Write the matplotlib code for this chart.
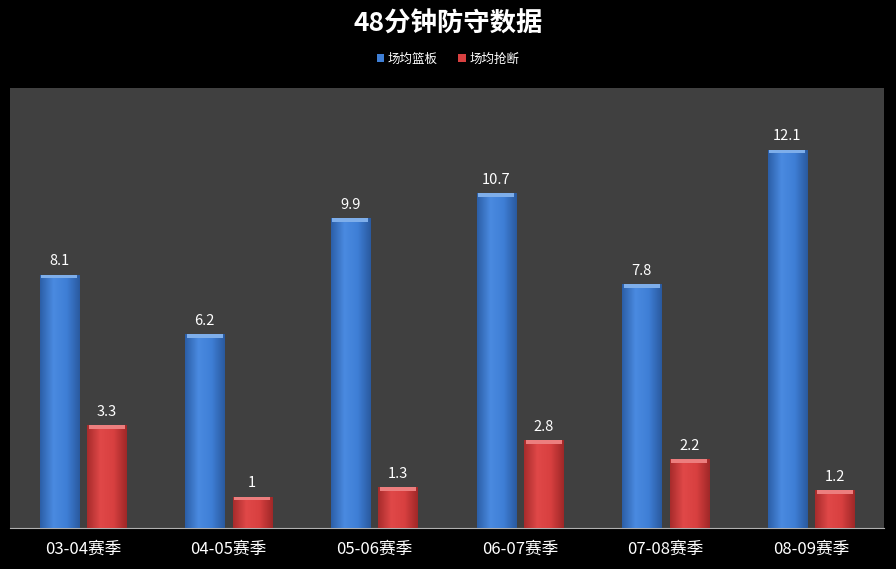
import numpy as np
import matplotlib.pyplot as plt
from matplotlib.colors import LinearSegmentedColormap

plt.rcParams['font.family'] = ['Noto Sans CJK SC', 'DejaVu Sans']

seasons = ["03-04赛季", "04-05赛季", "05-06赛季", "06-07赛季", "07-08赛季", "08-09赛季"]
rebounds = [8.1, 6.2, 9.9, 10.7, 7.8, 12.1]
steals = [3.3, 1, 1.3, 2.8, 2.2, 1.2]

fig = plt.figure(figsize=(8.96, 5.69), dpi=100, facecolor="black")
ax = fig.add_axes([10 / 896, 1 - 528 / 569, 874 / 896, 440 / 569])
ax.set_facecolor("#404040")

x = np.arange(len(seasons))
w = 0.268
off = 0.163

blue_cm = LinearSegmentedColormap.from_list("b", ["#2c5fa8", "#4a8ae0", "#3f7fd6", "#2a5aa0"])
red_cm = LinearSegmentedColormap.from_list("r", ["#a82c2c", "#e04848", "#d84040", "#a02828"])
grad = np.linspace(0, 1, 64).reshape(1, -1)


def shaded(xs, vals, color, cmap, top):
    bars = ax.bar(xs, vals, w, color=color, zorder=2)
    for b in bars:
        x0, y0 = b.get_x(), b.get_y()
        bw, bh = b.get_width(), b.get_height()
        im = ax.imshow(grad, cmap=cmap, extent=[x0, x0 + bw, y0, y0 + bh],
                       aspect="auto", zorder=3)
        im.set_clip_path(b)
        ax.bar(x0 + bw / 2, 0.12, bw * 0.92, bottom=y0 + bh - 0.12,
               color=top, zorder=4, linewidth=0)
        ax.text(x0 + bw / 2, y0 + bh + 0.2, f"{bh:g}", ha="center", va="bottom",
                color="white", fontsize=10.5)
    return bars


b1 = shaded(x - off, rebounds, "#3f7fd6", blue_cm, "#7eaeea")
b2 = shaded(x + off, steals, "#d84040", red_cm, "#ec7e7e")

ax.set_xlim(-0.5, len(seasons) - 0.5)
ax.set_ylim(0, 14.07)
ax.set_xticks(x)
ax.set_xticklabels(seasons, color="white", fontsize=12)
ax.tick_params(axis="x", length=0, pad=9)
ax.set_yticks([])
for s in ["left", "right", "top"]:
    ax.spines[s].set_visible(False)
ax.spines["bottom"].set_color("#b0b0b0")

fig.text(0.5, 1 - 24 / 569, "48分钟防守数据", ha="center", va="center",
         color="white", fontsize=19, fontweight="bold")
leg = fig.legend([b1, b2], ["场均篮板", "场均抢断"], loc="center",
                 bbox_to_anchor=(0.5, 1 - 59 / 569), ncol=2, frameon=False,
                 fontsize=9, handlelength=0.6, handleheight=0.6,
                 columnspacing=1.6, handletextpad=0.3, labelcolor="white")

fig.savefig("out.png", dpi=100, facecolor="black")
